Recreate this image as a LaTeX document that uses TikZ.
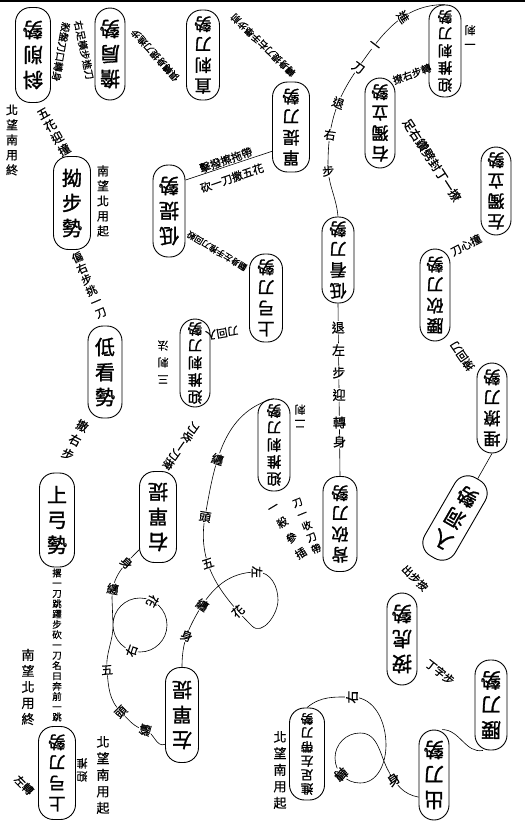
\documentclass[tikz,border=0pt]{standalone}
\usepackage{fontspec}
\setmainfont{Noto Sans CJK TC}[FakeBold=0.6]
\newfontfamily\posefont{Noto Sans CJK TC}[FakeBold=1.6]

\begin{document}
\begin{tikzpicture}[x=1pt, y=1pt,
    every node/.style={inner sep=0.5pt},
    pose/.style={draw, line width=0.9pt, rounded corners=15pt, inner sep=1pt, align=center, font=\posefont\fontsize{17}{20.5}\selectfont},
    inv/.style={rotate=180},
    three/.style={font=\posefont\fontsize{20}{25}\selectfont},
    five/.style={font=\posefont\fontsize{14.5}{17}\selectfont},
    six/.style={font=\posefont\fontsize{12.5}{14}\selectfont},
    lab/.style={align=center, font=\fontsize{10}{11}\selectfont},
    pc/.style={fill=white, inner sep=0.8pt, font=\fontsize{12}{12}\selectfont, sloped, allow upside down, rotate=90},
    link/.style={line width=0.6pt}
]
  \useasboundingbox (0,0) rectangle (525,-825);
  \draw[line width=1.2pt] (0,-1) -- (525,-1);

  % postures
  \node[pose, inv, three, minimum width=35pt, minimum height=95pt] (xiexue) at (33,-55) {斜\\削\\勢};
  \node[pose, inv, three, minimum width=30pt, minimum height=92pt] (danjian) at (110,-54) {擔\\肩\\勢};
  \node[pose, inv, minimum width=33pt, minimum height=90pt] (zhici) at (203,-55) {直\\刺\\刀\\勢};
  \node[pose, inv, minimum width=37pt, minimum height=90pt] (dantidao) at (291,-127) {單\\提\\刀\\勢};
  \node[pose, inv, five, minimum width=32pt, minimum height=92pt] (yingtuiA) at (445,-51) {迎\\推\\刺\\刀\\勢};
  \node[pose, inv, minimum width=30pt, minimum height=90pt] (youduli) at (380,-123) {右\\獨\\立\\勢};
  \node[pose, inv, minimum width=30pt, minimum height=88pt] (zuoduli) at (496,-191) {左\\獨\\立\\勢};
  \node[pose, three, minimum width=37pt, minimum height=93pt] (aobu) at (72,-203) {拗\\步\\勢};
  \node[pose, inv, three, minimum width=32pt, minimum height=92pt] (diti) at (169,-211) {低\\提\\勢};
  \node[pose, inv, minimum width=32pt, minimum height=86pt] (dikandao) at (338,-260) {低\\看\\刀\\勢};
  \node[pose, inv, minimum width=30pt, minimum height=92pt] (yaokan) at (435,-295) {腰\\砍\\刀\\勢};
  \node[pose, inv, minimum width=33pt, minimum height=88pt] (gongdaoA) at (266,-298) {上\\弓\\刀\\勢};
  \node[pose, inv, five, minimum width=30pt, minimum height=88pt] (yingtuiC) at (195,-363) {迎\\推\\刺\\刀\\勢};
  \node[pose, three, minimum width=34pt, minimum height=92pt] (dikan) at (105,-372) {低\\看\\勢};
  \node[pose, inv, minimum width=30pt, minimum height=90pt] (mailiao) at (492,-408) {埋\\撩\\刀\\勢};
  \node[pose, inv, five, minimum width=32pt, minimum height=92pt] (yingtuiB) at (274,-445) {迎\\推\\刺\\刀\\勢};
  \node[pose, inv, three, minimum width=37pt, minimum height=91pt] (youdanti) at (158,-517) {右\\單\\提};
  \node[pose, three, minimum width=35pt, minimum height=94pt] (shanggong) at (57,-520) {上\\弓\\勢};
  \node[pose, rotate=150, three, minimum width=35pt, minimum height=90pt] (rudong) at (455,-518) {入\\洞\\勢};
  \node[pose, inv, minimum width=34pt, minimum height=95pt] (beikan) at (340,-524) {背\\砍\\刀\\勢};
  \node[pose, inv, three, minimum width=30pt, minimum height=92pt] (anhu) at (402,-639) {按\\虎\\勢};
  \node[pose, inv, three, minimum width=32pt, minimum height=90pt] (yaodao) at (491,-705) {腰\\刀\\勢};
  \node[pose, inv, three, minimum width=33pt, minimum height=95pt] (zuodanti) at (182,-715) {左\\單\\提};
  \node[pose, inv, six, minimum width=35pt, minimum height=92pt] (daidao) at (307,-754) {進\\足\\左\\帶\\刀\\勢};
  \node[pose, inv, minimum width=37pt, minimum height=93pt] (gongdaoB) at (57,-773) {上\\弓\\刀\\勢};
  \node[pose, inv, three, minimum width=30pt, minimum height=90pt] (chudao) at (434,-775) {出\\刀\\勢};

  % side notes
  \node[lab, font=\fontsize{12}{15}\selectfont] (wangA) at (12,-140) {北\\望\\南\\用\\終};
  \node[lab, font=\fontsize{12}{15}\selectfont] (wangB) at (103,-201) {南\\望\\北\\用\\起};
  \node[lab, font=\fontsize{13}{16}\selectfont] (wangC) at (28,-687) {南\\望\\北\\用\\終};
  \node[lab, font=\fontsize{13}{16.5}\selectfont] (wangD) at (103,-775) {北\\望\\南\\用\\起};
  \node[lab, font=\fontsize{13}{16.5}\selectfont] (wangE) at (280,-770) {北\\望\\南\\用\\起};
  \node[lab, inv, font=\fontsize{11}{14}\selectfont] (yici) at (470,-35) {一\\刺};
  \node[lab, inv, font=\fontsize{11}{14}\selectfont] (erci) at (300,-416) {二\\刺};
  \node[lab, inv, font=\fontsize{11}{17}\selectfont] (sanci) at (163,-362) {三\\刺\\法};
  \node[lab, font=\fontsize{9.5}{10.3}\selectfont] (benqian) at (57,-645) {撂\\一\\刀\\跳\\躍\\步\\砍\\一\\刀\\名\\曰\\奔\\前\\一\\跳};
  \node[lab, inv, font=\fontsize{11}{13}\selectfont] (yingP) at (82,-770) {迎\\推};
  \node[lab, rotate=-45, font=\fontsize{11}{12}\selectfont] (zuozhuan) at (24,-785) {左轉};

  % step notes between postures
  \node[lab, rotate=-100] (labABa) at (61,-52) {殺盤刀口轉身};
  \node[lab, rotate=-78] (labABb) at (84,-50) {右足橫步進刀};
  \node[lab, rotate=132, font=\fontsize{9.5}{10}\selectfont] (labBC) at (155,-55) {俱轉身提刀進步};
  \node[lab, rotate=136, font=\fontsize{9.5}{10}\selectfont] (labCD) at (263,-45) {轉身提刀右手舉步前};
  \node[lab, rotate=30, font=\fontsize{12}{14}\selectfont] (labAZ) at (54,-132) {五\\花\\迎\\撞};
  \node[lab, rotate=23, font=\fontsize{11}{12}\selectfont] (labZR) at (89,-285) {偏\\右\\步\\挑\\一\\刀};
  \node[lab, rotate=-27, font=\fontsize{12}{16}\selectfont] (labRQ) at (75,-440) {撤\\右\\步};
  \node[lab, rotate=19, font=\fontsize{11}{12}\selectfont] (labDUa) at (226,-160) {擊撥擦拖帶};
  \node[lab, rotate=19, font=\fontsize{11}{12}\selectfont] (labDUb) at (232,-178) {砍一刀撒五花};
  \node[lab, rotate=149, font=\fontsize{8.5}{9}\selectfont] (labUT) at (217,-251) {翻身左手推刀回殺};
  \node[lab, rotate=190, font=\fontsize{11}{12}\selectfont] (labST) at (222,-333) {刀回入};
  \node[lab, rotate=235, font=\fontsize{11}{12}\selectfont] (labYS) at (181,-446) {刀收一刀撩};
  \node[lab, rotate=20] (labEF) at (412,-74) {撩右步轉};
  \node[lab, rotate=-57, font=\fontsize{12}{13}\selectfont] (labFG) at (432,-160) {足右鑽劈封丁一撩};
  \node[lab, rotate=27, font=\fontsize{11}{12}\selectfont] (labGI) at (466,-245) {刀心撞};
  \node[lab, rotate=125, font=\fontsize{11}{12}\selectfont] (labIJ) at (462,-356) {撩回刀};
  \node[lab, rotate=-45, font=\fontsize{10.5}{11}\selectfont] (labKL) at (415,-578) {出步按};
  \node[lab, rotate=-38, font=\fontsize{11}{12}\selectfont] (labLM) at (440,-672) {丁字步};
  \node[lab, rotate=31, font=\fontsize{11}{18}\selectfont] (labWVa) at (288,-532) {一\\殺\\參\\插};
  \node[lab, rotate=22, font=\fontsize{10}{12.5}\selectfont] (labWVb) at (307,-526) {刀\\一\\收\\刀\\帶};

  % connectors
  \draw[link] (yingtuiA.south) to[out=180,in=55]
      node[pc, pos=.4] {進} node[pc, pos=.78] {一} (358,-68)
    to[out=235,in=90] node[pc, pos=0] {刀} node[pc, pos=.38] {退} node[pc, pos=.72] {右} (328,-165)
    to[out=-90,in=95] node[pc, pos=.1] {步} (dikandao.south);

  \draw[link] (dikandao.north) --
      node[pc, pos=.14, font=\fontsize{13}{13}\selectfont] {退}
      node[pc, pos=.27, font=\fontsize{13}{13}\selectfont] {左}
      node[pc, pos=.40, font=\fontsize{13}{13}\selectfont] {步}
      node[pc, pos=.53, font=\fontsize{13}{13}\selectfont] {迎}
      node[pc, pos=.69, font=\fontsize{13}{13}\selectfont] {轉}
      node[pc, pos=.80, font=\fontsize{13}{13}\selectfont] {身} (beikan.south);

  \draw[link] (dantidao.52) -- (diti.242);
  \draw[link] (mailiao.north) -- (rudong.south);
  \draw[link] (chudao.260) to[out=0,in=190] (yaodao.80);

  \draw[link] (daidao.south) to[out=40,in=180] node[pc, pos=1, font=\fontsize{13}{13}\selectfont] {右} (352,-697)
    to[out=0,in=90] (386,-745)
    to[out=-90,in=0] (360,-783)
    to[out=180,in=-90] node[pc, pos=.55, font=\fontsize{13}{13}\selectfont] {轉} (335,-758)
    to[out=90,in=180] (360,-733)
    to[out=0,in=120] (389,-772)
    to[out=-60,in=170] node[pc, pos=.2, font=\fontsize{13}{13}\selectfont] {身} (chudao.55);

  \draw[link] (yingtuiB.south) to[out=195,in=80] node[pc, pos=.62] {纏} node[pc, pos=1] {頭} (205,-517)
    to[out=-100,in=135] node[pc, pos=.38] {五} node[pc, pos=.85] {花} (252,-626)
    to[out=-45,in=-90] (278,-600)
    to[out=90,in=0] node[pc, pos=1] {左} (257,-572)
    to[out=180,in=60] node[pc, pos=.9] {纏} (198,-612)
    to[out=240,in=90] node[pc, pos=.45] {身} (zuodanti.south);

  \draw[link] (youdanti.60) to[out=225,in=90] node[pc, pos=.3] {身} node[pc, pos=.85] {纏} (112,-598)
    -- (113,-625)
    to[out=-90,in=180] node[pc, pos=.8] {右} (140,-652)
    to[out=0,in=-90] (167,-625)
    to[out=90,in=0] node[pc, pos=.7] {花} (140,-598)
    to[out=180,in=90] (113,-625)
    to[out=-90,in=95] node[pc, pos=1] {五} (107,-670)
    to[out=-85,in=135] node[pc, pos=1] {頭} (121,-712)
    to[out=-45,in=165] node[pc, pos=1] {纏} (145,-730)
    to[out=-15,in=200] (zuodanti.60);
\end{tikzpicture}
\end{document}
